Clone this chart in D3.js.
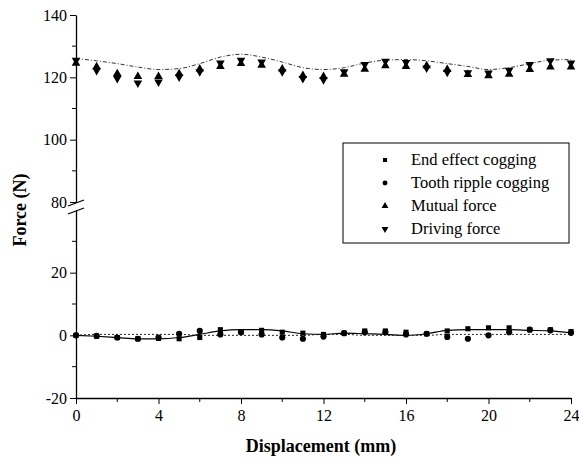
<!DOCTYPE html>
<html>
<head>
<meta charset="utf-8">
<script src="https://cdn.jsdelivr.net/npm/d3@7"></script>
<style>
  body { margin: 0; background: #fff; }
</style>
</head>
<body>
<div id="chart"></div>
<script>
// displacement positions (mm)
const disp = d3.range(0, 25);

// measured points
const endEffect = [0, -0.3, -0.7, -1.1, -1.0, -1.1, -0.7, 1.8, 1.0, 1.6, 1.0, 0.7, 0.3, 0.7, 1.4, 1.4, 1.0, 0.5, 1.4, 2.1, 2.4, 2.4, 1.8, 1.8, 1.2];
const toothRipple = [0, -0.2, -0.7, -1.1, -0.7, 0.5, 1.4, 0.3, 1.0, 0.3, -0.7, -1.1, -0.4, 0.7, 1.0, 1.0, 0.3, 0.5, -0.5, -1.1, 0, 1.0, 1.8, 1.6, 0.8];
const mutual = [124.5, 123.4, 121.2, 120.3, 120.3, 121.2, 122.7, 123.5, 124.4, 123.9, 122.7, 120.6, 120.3, 121.0, 122.6, 123.7, 123.5, 123.7, 122.5, 120.9, 120.5, 121.0, 122.5, 123.3, 123.3];
const driving = [125.5, 122.2, 119.6, 118.2, 118.5, 120.1, 121.8, 124.6, 125.5, 124.9, 121.8, 119.6, 119.2, 121.8, 124.1, 125.2, 124.8, 123.0, 121.6, 121.5, 121.4, 122.3, 124.1, 125.3, 124.6];

// calculated curves
const drivingCalc = [126.0, 125.3, 124.4, 123.3, 122.5, 122.8, 124.4, 126.5, 127.4, 126.5, 124.9, 123.1, 122.5, 123.1, 124.6, 125.5, 125.7, 125.3, 124.4, 123.5, 122.5, 123.1, 124.4, 125.5, 125.7];
const endCalc = [0, -0.3, -0.7, -1.1, -1.1, -0.7, 0.3, 1.4, 1.8, 1.8, 1.4, 0.5, 0.3, 0.7, 0.5, 0.3, 0, 0.5, 1.6, 1.8, 1.8, 1.8, 1.6, 1.4, 0.8];
const toothCalc = [0, 0.3, 0.3, 0.3, 0.3, 0.3, 0, 0, 0, 0, 0, 0, 0.3, 0.3, 0, 0, 0, 0, 0.3, 0.3, 0.3, 0.3, 0.3, 0.3, 0.3];

const xTicks = [0, 4, 8, 12, 16, 20, 24];
const xMinor = [2, 6, 10, 14, 18, 22];
const yUpperTicks = [80, 100, 120, 140];
const yUpperMinor = [90, 110, 130];
const yLowerTicks = [-20, 0, 20];
const yLowerMinor = [-10, 10, 30];
const legendNames = ["End effect cogging", "Tooth ripple cogging", "Mutual force", "Driving force"];

const serif = '"Liberation Serif", "Times New Roman", Times, serif';
const W = 579, H = 466;
const svg = d3.select('#chart').append('svg').attr('width', W).attr('height', H);

const x = d3.scaleLinear().domain([0, 24]).range([76, 571]);
const yUp = d3.scaleLinear().domain([80, 140]).range([202, 15]);
const yLo = d3.scaleLinear().domain([-20, 40]).range([398, 210]);

// axes
const styleTicks = g => g.selectAll('text')
  .attr('font-family', serif).style('font-family', serif).style('font-size', '16px').attr('fill', '#000');
const plain = d => String(d); // keep a plain hyphen for negatives

const xAxis = d3.axisBottom(x).tickValues(xTicks).tickFormat(plain).tickSize(6).tickSizeOuter(0).tickPadding(6);
const gx = svg.append('g').attr('transform', `translate(0,${yLo(-20)})`).call(xAxis);
styleTicks(gx);
gx.append('g').selectAll('line').data(xMinor).join('line')
  .attr('x1', d => x(d)).attr('x2', d => x(d)).attr('y1', 0).attr('y2', 4).attr('stroke', '#000');

const gyU = svg.append('g').attr('transform', `translate(${x(0)},0)`)
  .call(d3.axisLeft(yUp).tickValues(yUpperTicks).tickFormat(plain).tickSize(6).tickSizeOuter(0).tickPadding(3));
styleTicks(gyU);
gyU.append('g').selectAll('line').data(yUpperMinor).join('line')
  .attr('y1', d => yUp(d)).attr('y2', d => yUp(d)).attr('x1', 0).attr('x2', -4).attr('stroke', '#000');

const gyL = svg.append('g').attr('transform', `translate(${x(0)},0)`)
  .call(d3.axisLeft(yLo).tickValues(yLowerTicks).tickFormat(plain).tickSize(6).tickSizeOuter(0).tickPadding(3));
styleTicks(gyL);
gyL.append('g').selectAll('line').data(yLowerMinor).join('line')
  .attr('y1', d => yLo(d)).attr('y2', d => yLo(d)).attr('x1', 0).attr('x2', -4).attr('stroke', '#000');

svg.selectAll('.domain').attr('stroke-width', 1.3);

// axis break marks
[yUp(80) + 1, yLo(40) + 1].forEach(yy => {
  svg.append('line').attr('x1', x(0) - 8).attr('x2', x(0) + 8)
    .attr('y1', yy + 3).attr('y2', yy - 3).attr('stroke', '#000').attr('stroke-width', 1.3);
});

// titles
svg.append('text').attr('x', 321).attr('y', 452).attr('text-anchor', 'middle')
  .style('font-family', serif).style('font-size', '18px').style('font-weight', 'bold').text('Displacement (mm)');
svg.append('text').attr('transform', 'translate(26,210) rotate(-90)').attr('text-anchor', 'middle')
  .style('font-family', serif).style('font-size', '18px').style('font-weight', 'bold').text('Force (N)');

// calculated curves
const lineUp = d3.line().x((d, i) => x(disp[i])).y(d => yUp(d)).curve(d3.curveMonotoneX);
const lineLo = d3.line().x((d, i) => x(disp[i])).y(d => yLo(d)).curve(d3.curveMonotoneX);
svg.append('path').attr('d', lineUp(drivingCalc)).attr('fill', 'none').attr('stroke', '#333')
  .attr('stroke-width', 1).attr('stroke-dasharray', '4,2,1,2');
svg.append('path').attr('d', lineLo(endCalc)).attr('fill', 'none').attr('stroke', '#000').attr('stroke-width', 1.2);
svg.append('path').attr('d', lineLo(toothCalc)).attr('fill', 'none').attr('stroke', '#222')
  .attr('stroke-width', 1).attr('stroke-dasharray', '2,2');

// markers
const sym = {
  square: d3.symbol().type(d3.symbolSquare).size(26),
  circle: d3.symbol().type(d3.symbolCircle).size(30),
  tri: d3.symbol().type(d3.symbolTriangle).size(32)
};
function drawPts(vals, ys, path, rot) {
  svg.append('g').selectAll('path').data(vals).join('path')
    .attr('d', path())
    .attr('transform', (d, i) => `translate(${x(disp[i])},${ys(d)}) rotate(${rot})`)
    .attr('fill', '#000');
}
drawPts(endEffect, yLo, sym.square, 0);
drawPts(toothRipple, yLo, sym.circle, 0);
drawPts(mutual, yUp, sym.tri, 0);
drawPts(driving, yUp, sym.tri, 180);

// legend
const lg = svg.append('g');
lg.append('rect').attr('x', 343).attr('y', 143).attr('width', 226).attr('height', 100)
  .attr('fill', '#fff').attr('stroke', '#000').attr('stroke-width', 1);
const legendSyms = [[sym.square, 0], [sym.circle, 0], [sym.tri, 0], [sym.tri, 180]];
legendNames.forEach((name, i) => {
  const yy = 160 + i * 23;
  lg.append('path').attr('d', legendSyms[i][0]())
    .attr('transform', `translate(385,${yy}) rotate(${legendSyms[i][1]}) scale(0.8)`).attr('fill', '#000');
  lg.append('text').attr('x', 411).attr('y', yy + 5)
    .style('font-family', serif).style('font-size', '16.5px').text(name);
});
</script>
</body>
</html>
